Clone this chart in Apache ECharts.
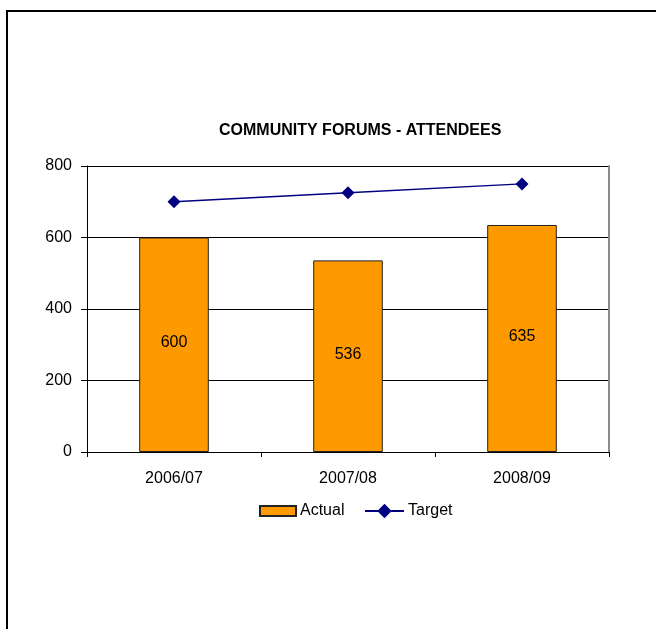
<!DOCTYPE html>
<html>
<head>
<meta charset="utf-8">
<title>Community Forums - Attendees</title>
<script src="https://cdn.jsdelivr.net/npm/echarts@6/dist/echarts.min.js"></script>
<style>
  html, body { margin: 0; padding: 0; background: #fff; }
  #chart { width: 656px; height: 629px; }
</style>
</head>
<body>
<div id="chart"></div>
<script>
// Financial years shown on the category axis
const years = ['2006/07', '2007/08', '2008/09'];
// Attendees recorded per year
const actual = [600, 536, 635];
// Attendance target per year
const target = [700, 725, 750];
// Value axis ticks
const yTicks = [0, 200, 400, 600, 800];

const FONT = '"Liberation Sans", Arial, sans-serif';
const LABEL_SIZE = 16;

const chart = echarts.init(document.getElementById('chart'), null, { renderer: 'canvas' });

chart.setOption({
  animation: false,
  backgroundColor: '#ffffff',
  textStyle: { fontFamily: FONT, color: '#000' },
  title: {
    text: 'COMMUNITY FORUMS - ATTENDEES',
    left: 219,
    top: 123,
    padding: 0,
    textStyle: { fontFamily: FONT, fontSize: 16, fontWeight: 'bold', color: '#000' }
  },
  graphic: [
    {
      type: 'rect',
      silent: true,
      shape: { x: 7, y: 11, width: 700, height: 700 },
      style: { fill: 'none', stroke: '#000', lineWidth: 2 }
    }
  ],
  legend: [
    {
      left: 259,
      top: 503,
      padding: 0,
      itemWidth: 36,
      itemHeight: 10,
      textStyle: { fontFamily: FONT, fontSize: LABEL_SIZE, color: '#000', padding: [0, 0, 0, -1] },
      data: [{ name: 'Actual', icon: 'rect' }]
    },
    {
      left: 364,
      top: 503,
      padding: 0,
      itemWidth: 39,
      itemHeight: 18,
      textStyle: { fontFamily: FONT, fontSize: LABEL_SIZE, color: '#000', padding: [0, 0, 0, -1] },
      data: [{ name: 'Target' }]
    }
  ],
  grid: { left: 87, top: 166, right: 47, bottom: 177, containLabel: false },
  xAxis: {
    type: 'category',
    data: years,
    boundaryGap: true,
    axisLine: { show: true, lineStyle: { color: '#000', width: 1 } },
    axisTick: { show: true, length: 5, inside: false, alignWithLabel: false, lineStyle: { color: '#000' } },
    axisLabel: { margin: 19, fontFamily: FONT, fontSize: LABEL_SIZE, color: '#000' },
    splitLine: { show: false }
  },
  yAxis: [
    {
      type: 'value',
      min: yTicks[0],
      max: yTicks[yTicks.length - 1],
      interval: yTicks[1] - yTicks[0],
      axisLine: { show: true, lineStyle: { color: '#000', width: 1 } },
      axisTick: { show: true, length: 6, inside: false, lineStyle: { color: '#000' } },
      axisLabel: { margin: 15, fontFamily: FONT, fontSize: LABEL_SIZE, color: '#000' },
      splitLine: { show: true, lineStyle: { color: '#000', width: 1 } }
    },
    {
      type: 'value',
      position: 'right',
      min: yTicks[0],
      max: yTicks[yTicks.length - 1],
      interval: yTicks[1] - yTicks[0],
      axisLine: { show: true, lineStyle: { color: '#8a8a8a', width: 2 } },
      axisTick: { show: false },
      axisLabel: { show: false },
      splitLine: { show: false }
    }
  ],
  series: [
    {
      name: 'Actual',
      type: 'bar',
      data: actual,
      barWidth: '40%',
      itemStyle: { color: '#FF9900', borderColor: '#222', borderWidth: 1 },
      label: {
        show: true,
        position: 'inside',
        offset: [0, -2],
        fontFamily: FONT,
        fontSize: LABEL_SIZE,
        color: '#000'
      },
      z: 2
    },
    {
      name: 'Target',
      type: 'line',
      data: target,
      symbol: 'diamond',
      symbolSize: 13,
      itemStyle: { color: '#000080' },
      lineStyle: { color: '#000080', width: 1.5 },
      label: { show: false },
      z: 3
    }
  ]
});
</script>
</body>
</html>
